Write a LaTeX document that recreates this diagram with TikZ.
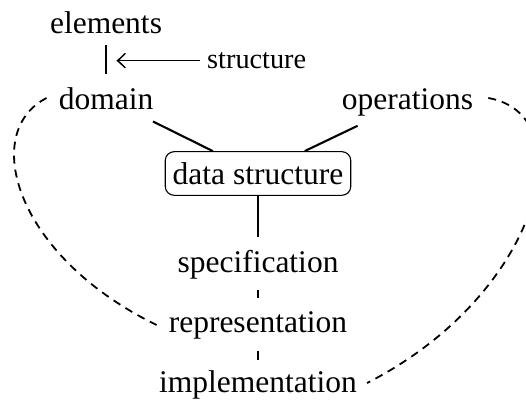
\documentclass[tikz,border=0pt]{standalone}
\usepackage{fontspec}
\setmainfont{Liberation Serif}
\begin{document}
\begin{tikzpicture}[x=1pt,y=-1pt,
  lbl/.style={font=\fontsize{31.5}{38}\selectfont, inner sep=0pt, anchor=base},
  small lbl/.style={font=\fontsize{28.3}{34}\selectfont, inner sep=0pt, anchor=base west},
  boxed/.style={lbl, draw, line width=1.1pt, rounded corners=9pt, inner xsep=7.5pt, inner ysep=10.75pt},
  solidline/.style={line width=2.1pt},
  dashcurve/.style={line width=1.8pt, dash pattern=on 8pt off 6pt},
  shortdash/.style={line width=2pt},
  arrowline/.style={line width=1.5pt},
  arrowhead/.style={line width=1.5pt, line cap=round}]
\useasboundingbox (0,0) rectangle (526,399);

\node[lbl] (elements) at (106,33) {elements};
\node[small lbl] (structure) at (207,68.5) {structure};
\node[lbl] (domain) at (106,109) {domain};
\node[lbl] (operations) at (407.5,109) {operations};
\node[boxed] (ds) at (258,184.25) {data structure};
\node[lbl] (specification) at (258,272) {specification};
\node[lbl] (representation) at (258,332) {representation};
\node[lbl] (implementation) at (258,392) {implementation};

% elements -- domain
\draw[solidline, shorten <=11pt, shorten >=12.5pt] (elements.south) -- (domain.north);
% structure arrow
\coordinate (tip) at ([xshift=11.5pt]structure.west -| elements.south);
\draw[arrowline, shorten <=7pt] (structure.west) -- (tip);
\draw[arrowhead] ([shift={(7.5pt,7pt)}]tip) .. controls ([shift={(2.5pt,2pt)}]tip) .. (tip)
  .. controls ([shift={(2.5pt,-2pt)}]tip) .. ([shift={(7.5pt,-7pt)}]tip);
% to data structure
\draw[solidline, shorten <=27pt] (domain) -- (ds);
\draw[solidline, shorten <=23pt] (operations) -- (ds);
\draw[solidline, shorten >=12.5pt] (ds) -- (specification);
% short dashes
\draw[shortdash, dash pattern=on 8pt off 60pt, shorten <=11pt] (specification) -- (representation);
\draw[shortdash, dash pattern=on 9pt off 60pt, shorten <=12pt] (representation) -- (implementation);
% dashed curves
\draw[dashcurve] ([shift={(-12pt,11pt)}]domain.base west)
  .. controls (-20,132) and (15,256) .. ([shift={(-12pt,7pt)}]representation.base west);
\draw[dashcurve] ([shift={(15pt,11pt)}]operations.base east)
  .. controls (585,115) and (540,295) .. ([shift={(10pt,9pt)}]implementation.base east);
\end{tikzpicture}
\end{document}
